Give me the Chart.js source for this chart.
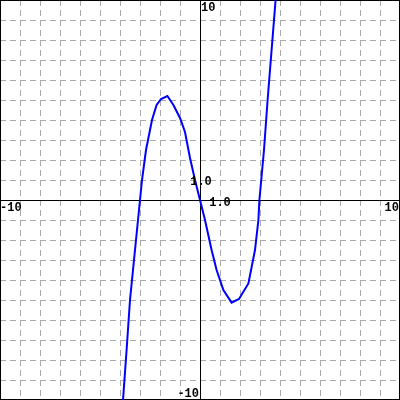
<!DOCTYPE html>
<html>
<head>
<meta charset="utf-8">
<script src="https://cdn.jsdelivr.net/npm/chart.js@4"></script>
<style>
html,body{margin:0;padding:0;background:#fff;}
#wrap{width:400px;height:400px;position:relative;}
</style>
</head>
<body>
<div id="wrap"><canvas id="c"></canvas></div>
<script>
// Data
const xValues = [-3.85, -3.67, -3.5, -3.25, -3.0, -2.9, -2.7, -2.5, -2.4, -2.17, -1.95, -1.63, -1.33, -1.0, -0.75, -0.5, -0.25, 0, 0.25, 0.58, 0.83, 1.17, 1.58, 1.95, 2.42, 2.75, 2.92, 2.97, 3.2, 3.38, 3.58, 3.78];
const yValues = [-10, -7.5, -5, -2.5, 0, 1, 2.5, 3.5, 4, 4.75, 5.05, 5.2, 4.75, 4.1, 3.4, 2.1, 1, 0, -1, -2.5, -3.5, -4.5, -5.13, -4.95, -4.17, -2.5, -1, 0, 2.5, 5, 7.5, 10];
const axisMin = -10;
const axisMax = 10;
const gridStep = 1;
// tick labels: [text, xValue, yValue, align, baseline offsets handled in plugin]
const tickLabels = [
  {text: "10", x: 0, y: 10, where: "top"},
  {text: "-10", x: 0, y: -10, where: "bottom"},
  {text: "-10", x: -10, y: 0, where: "left"},
  {text: "10", x: 10, y: 0, where: "right"},
  {text: "1.0", x: 0, y: 1, where: "yunit"},
  {text: "1.0", x: 1, y: 0, where: "xunit"}
];

const points = xValues.map((x, i) => ({x: x, y: yValues[i]}));

const gridPlugin = {
  id: 'gridPlugin',
  beforeDatasetsDraw(chart) {
    const ctx = chart.ctx;
    const xs = chart.scales.x, ys = chart.scales.y;
    const a = chart.chartArea;
    ctx.save();
    ctx.lineWidth = 1;
    ctx.strokeStyle = '#aaaaaa';
    ctx.setLineDash([6, 4]);
    for (let v = axisMin + gridStep; v < axisMax; v += gridStep) {
      if (Math.abs(v) < 1e-9) continue;
      const px = Math.round(xs.getPixelForValue(v)) + 0.5;
      ctx.beginPath(); ctx.moveTo(px, a.top); ctx.lineTo(px, a.bottom); ctx.stroke();
      const py = Math.round(ys.getPixelForValue(v)) + 0.5;
      ctx.beginPath(); ctx.moveTo(a.left, py); ctx.lineTo(a.right, py); ctx.stroke();
    }
    ctx.setLineDash([]);
    ctx.strokeStyle = '#000000';
    const x0 = Math.round(xs.getPixelForValue(0)) + 0.5;
    const y0 = Math.round(ys.getPixelForValue(0)) + 0.5;
    ctx.beginPath(); ctx.moveTo(x0, a.top); ctx.lineTo(x0, a.bottom); ctx.stroke();
    ctx.beginPath(); ctx.moveTo(a.left, y0); ctx.lineTo(a.right, y0); ctx.stroke();
    ctx.strokeRect(a.left + 0.5, a.top + 0.5, a.right - a.left - 1, a.bottom - a.top - 1);
    ctx.restore();
  },
  afterDatasetsDraw(chart) {
    const ctx = chart.ctx;
    const xs = chart.scales.x, ys = chart.scales.y;
    ctx.save();
    ctx.fillStyle = '#000000';
    ctx.font = 'bold 12px "Liberation Mono", "DejaVu Sans Mono", monospace';
    ctx.textBaseline = 'alphabetic';
    tickLabels.forEach(l => {
      const px = xs.getPixelForValue(l.x), py = ys.getPixelForValue(l.y);
      let tx = px, ty = py;
      ctx.textAlign = 'left';
      if (l.where === 'top') { tx = px + 1; ty = py + 11; }
      else if (l.where === 'bottom') { ctx.textAlign = 'right'; tx = px - 1; ty = py - 3; }
      else if (l.where === 'left') { tx = px + 0; ty = py + 11; }
      else if (l.where === 'right') { ctx.textAlign = 'right'; tx = px - 1; ty = py + 11; }
      else if (l.where === 'yunit') { ctx.textAlign = 'center'; tx = px + 1; ty = py + 5; }
      else if (l.where === 'xunit') { ctx.textAlign = 'center'; tx = px - 0; ty = py + 6; }
      ctx.fillText(l.text, tx, ty);
    });
    ctx.restore();
  }
};

new Chart(document.getElementById('c'), {
  type: 'scatter',
  data: {
    datasets: [{
      data: points,
      showLine: true,
      borderColor: '#0000ff',
      backgroundColor: '#0000ff',
      borderWidth: 2,
      pointRadius: 0,
      tension: 0,
      fill: false
    }]
  },
  options: {
    responsive: true,
    maintainAspectRatio: false,
    animation: false,
    layout: {padding: 0},
    plugins: {legend: {display: false}, tooltip: {enabled: false}},
    scales: {
      x: {type: 'linear', min: axisMin, max: axisMax, display: false},
      y: {type: 'linear', min: axisMin, max: axisMax, display: false}
    }
  },
  plugins: [gridPlugin]
});
</script>
</body>
</html>
